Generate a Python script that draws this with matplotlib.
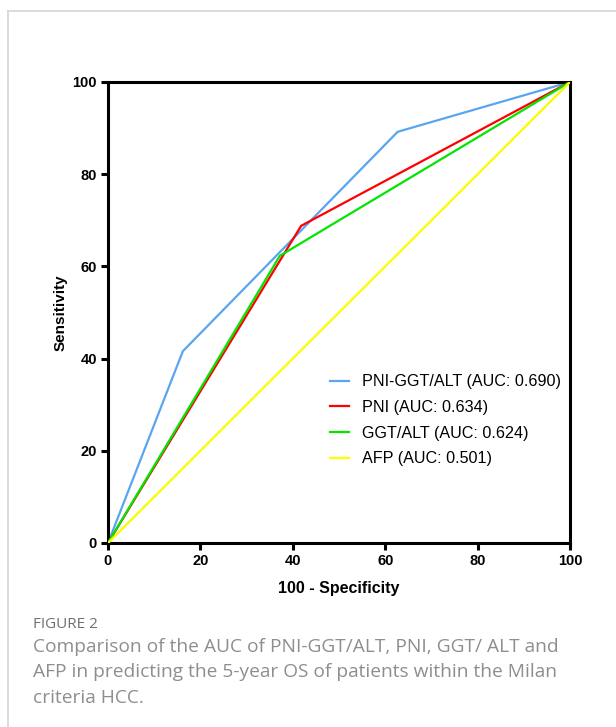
import numpy as np
import matplotlib
matplotlib.use("Agg")
import matplotlib.pyplot as plt
from matplotlib.lines import Line2D

# ROC points (100 - specificity, sensitivity)
combo_x = [0, 16.2, 62.7, 100]
combo_y = [0, 41.6, 89.2, 100]
pni_x = [0, 41.8, 100]
pni_y = [0, 68.8, 100]
ggt_x = [0, 37.2, 100]
ggt_y = [0, 62.3, 100]
afp_x = [0, 100]
afp_y = [0, 100]

labels = ["PNI-GGT/ALT (AUC: 0.690)", "PNI (AUC: 0.634)",
          "GGT/ALT (AUC: 0.624)", "AFP (AUC: 0.501)"]
colors = ["#5aa5f0", "#ff0000", "#00e600", "#ffff00"]

ticks = [0, 20, 40, 60, 80, 100]

plt.rcParams['font.family'] = ['Liberation Sans', 'DejaVu Sans']

fig = plt.figure(figsize=(6.16, 7.27), dpi=100)
ax = fig.add_axes([108/616, 1-543/727, 462/616, 461/727])

# chance line underneath
ax.plot([0, 100], [0, 100], color="black", lw=0.8, zorder=1)
ax.plot(combo_x, combo_y, color=colors[0], lw=1.6, label=labels[0], zorder=2)
ax.plot(pni_x, pni_y, color=colors[1], lw=1.6, label=labels[1], zorder=3)
ax.plot(ggt_x, ggt_y, color=colors[2], lw=1.6, label=labels[2], zorder=4)
ax.plot(afp_x, afp_y, color=colors[3], lw=1.6, label=labels[3], zorder=5)

ax.set_xlim(0, 100)
ax.set_ylim(0, 100)
ax.set_xticks(ticks)
ax.set_yticks(ticks)
for s in ax.spines.values():
	s.set_linewidth(2.2)
ax.tick_params(direction="out", length=5, width=2.2, labelsize=10.5, pad=3)
for t in ax.get_xticklabels() + ax.get_yticklabels():
	t.set_fontweight("bold")

ax.set_xlabel("100 - Specificity", fontsize=11.5, fontweight="bold", labelpad=9)
ax.set_ylabel("Sensitivity", fontsize=11, fontweight="bold")
ax.yaxis.set_label_coords(-0.087, 0.5)

leg = ax.legend(loc="lower right", bbox_to_anchor=(1.012, 0.135), frameon=False,
	fontsize=11.6, handlelength=1.2, handletextpad=0.8, labelspacing=0.66)

# light frame around the figure panel
fig.add_artist(Line2D([8/616, 8/616], [0, 1-11/727], color="#d4d4d4", lw=1.2))
fig.add_artist(Line2D([8/616, 1], [1-11/727, 1-11/727], color="#d4d4d4", lw=1.2))

fig.text(33/616, 1-624/727, "FIGURE 2", fontsize=11, color="#6f6f6f",
	family=["Open Sans", "DejaVu Sans"], va="center")
caption = ("Comparison of the AUC of PNI-GGT/ALT, PNI, GGT/ ALT and\n"
	"AFP in predicting the 5-year OS of patients within the Milan\n"
	"criteria HCC.")
fig.text(33/616, 1-638/727, caption, fontsize=13.8, color="#8e8e8e",
	family=["Open Sans", "DejaVu Sans"], va="top", linespacing=1.52)

fig.savefig("out.png", dpi=100)
